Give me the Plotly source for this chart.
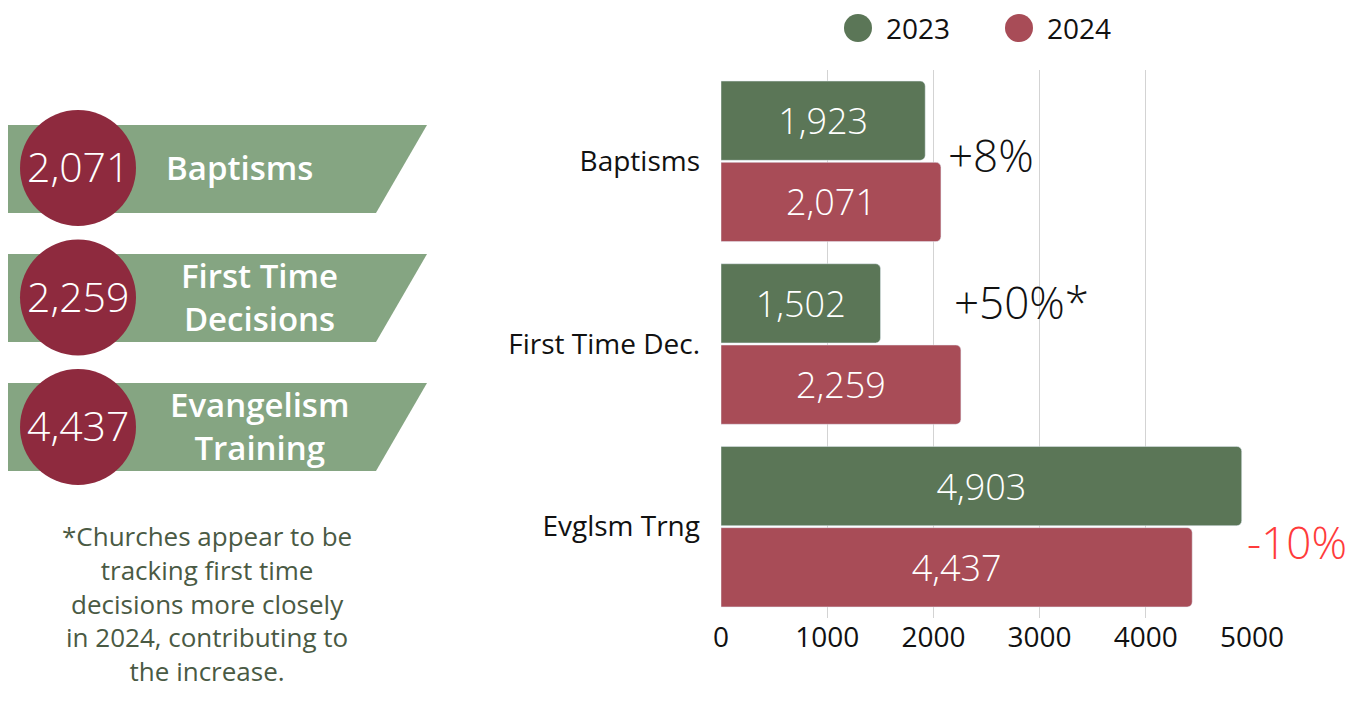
import plotly.graph_objects as go

# data
categories = ["Baptisms", "First Time Dec.", "Evglsm Trng"]
banner_labels = ["Baptisms", "First Time<br>Decisions", "Evangelism<br>Training"]
values_2023 = [1923, 1502, 4903]
values_2024 = [2071, 2259, 4437]
years = ["2023", "2024"]
footnote = ("*Churches appear to be<br>tracking first time<br>decisions more closely"
            "<br>in 2024, contributing to<br>the increase.")

# page has an 8px body margin, so work in screen pixels and shift
OFF = 8
W, H = 1361 - 2 * OFF, 701 - 2 * OFF
GREEN_BAR = "#5b7657"
RED_BAR = "#a84c57"
BANNER = "#85a582"
CIRCLE = "#8e2a3e"
FONT = "Open Sans"


def px(x):
    return (x - OFF) / W


def py(y):
    return 1 - (y - OFF) / H


fig = go.Figure()

for vals, year, color in [(values_2023, years[0], GREEN_BAR), (values_2024, years[1], RED_BAR)]:
    fig.add_trace(go.Bar(
        y=categories, x=vals, name=year, orientation="h",
        marker_color=color, texttemplate="%{x:,}", textposition="inside",
        insidetextanchor="middle", textfont=dict(size=36, color="white", family=FONT, weight=300),
        showlegend=False,
    ))

shapes = []
annotations = []

# percent change labels
pct_pos = [(2120, 6), (2175, 42), (4934, -15)]
for i, cat in enumerate(categories):
    ch = round((values_2024[i] - values_2023[i]) / values_2023[i] * 100)
    txt = f"+{ch}%" if ch > 0 else f"-{abs(ch)}%"
    if i == 1:
        txt += "*"
    annotations.append(dict(
        x=pct_pos[i][0], y=cat, xref="x", yref="y", text=txt, showarrow=False,
        xanchor="left", yshift=pct_pos[i][1],
        font=dict(size=44, family=FONT, weight=300,
                  color="#ff3b3b" if ch < 0 else "#111111"),
    ))

# left banners with circles
label_x = [240, 259, 259]
for i in range(len(categories)):
    top = 125 + i * 129
    bot = top + 88
    shapes.append(dict(
        type="path", xref="paper", yref="paper",
        path=f"M {px(5)},{py(top)} L {px(427)},{py(top)} L {px(376)},{py(bot)} L {px(5)},{py(bot)} Z",
        fillcolor=BANNER, line_width=0, layer="below",
    ))
    cy = 168 + i * 129.5
    shapes.append(dict(
        type="circle", xref="paper", yref="paper",
        x0=px(20), x1=px(136), y0=py(cy - 58), y1=py(cy + 58),
        fillcolor=CIRCLE, line_width=0,
    ))
    annotations.append(dict(
        x=px(78), y=py(cy - 2), xref="paper", yref="paper", text=f"{values_2024[i]:,}",
        showarrow=False, xanchor="center", yanchor="middle",
        font=dict(size=41, color="white", family=FONT, weight=300),
    ))
    annotations.append(dict(
        x=px(label_x[i]), y=py(top + 43), xref="paper", yref="paper", text=banner_labels[i],
        showarrow=False, xanchor="center", yanchor="middle",
        font=dict(size=33, color="white", family=FONT, weight=600),
    ))

annotations.append(dict(
    x=px(207), y=py(603), xref="paper", yref="paper", text=footnote,
    showarrow=False, xanchor="center", yanchor="middle", align="center", borderpad=0,
    font=dict(size=26, color="#4a5a44", family=FONT),
))

# legend drawn as circles
leg_x = [858, 1019]
for color, year, lx in zip([GREEN_BAR, RED_BAR], years, leg_x):
    shapes.append(dict(
        type="circle", xref="paper", yref="paper",
        x0=px(lx - 14), x1=px(lx + 14), y0=py(28 - 14), y1=py(28 + 14),
        fillcolor=color, line_width=0,
    ))
    annotations.append(dict(
        x=px(lx + 26), y=py(28), xref="paper", yref="paper", text=year,
        showarrow=False, xanchor="left", yanchor="middle",
        font=dict(size=28, color="#111111", family=FONT),
    ))

fig.update_layout(
    width=W, height=H,
    margin=dict(l=0, r=0, t=0, b=0),
    plot_bgcolor="white", paper_bgcolor="white",
    barmode="group", bargap=0.11, bargroupgap=0.025, barcornerradius=5,
    shapes=shapes, annotations=annotations,
    font=dict(family=FONT),
)
fig.update_xaxes(
    domain=[px(721), px(1252)],
    range=[0, 5000], dtick=1000, showgrid=True, gridcolor="#d3d3d3", zeroline=False,
    tickfont=dict(size=28, color="#111111"), automargin=False,
)
fig.update_yaxes(
    domain=[py(618), py(70)], autorange="reversed", showgrid=False,
    tickfont=dict(size=28, color="#111111"), ticklabelstandoff=20, automargin=False,
)

fig.write_html("out.html")
